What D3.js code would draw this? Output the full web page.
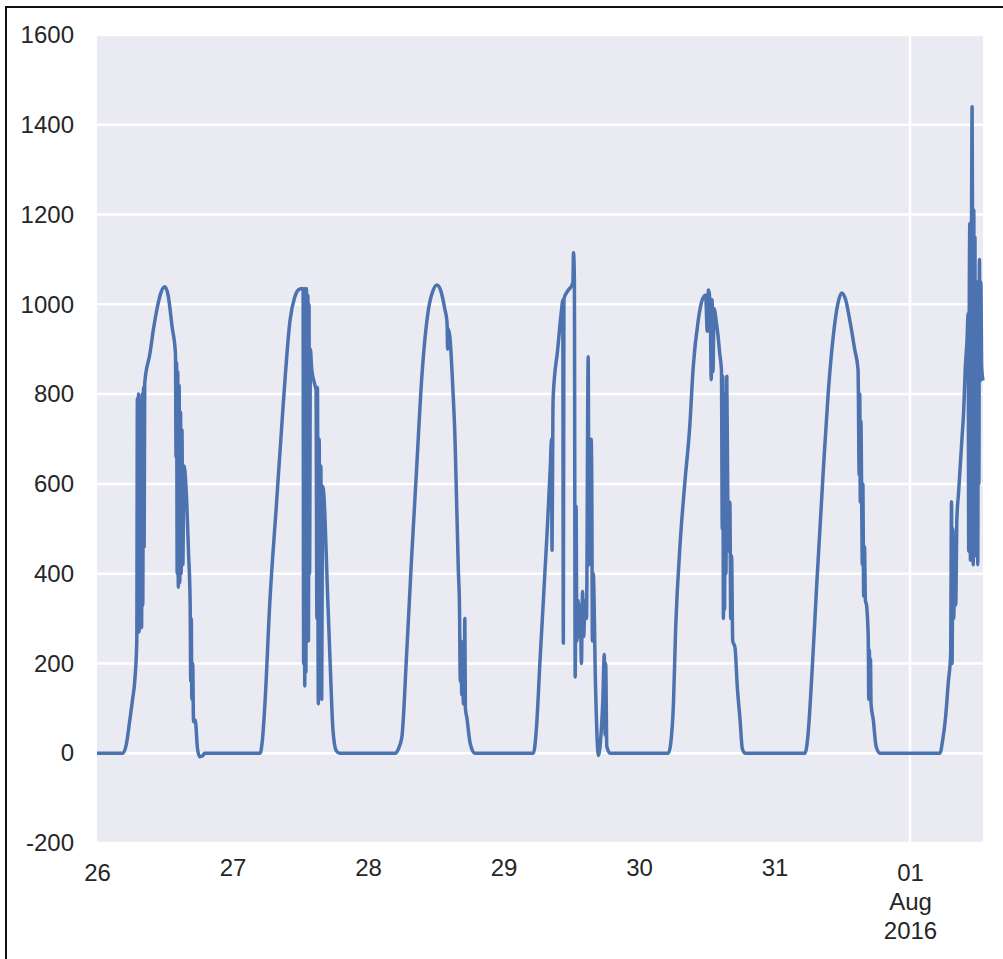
<!DOCTYPE html>
<html>
<head>
<meta charset="utf-8">
<script src="https://cdn.jsdelivr.net/npm/d3@7"></script>
<style>
  body { margin: 0; background: #fff; }
  text { font-family: "Liberation Sans", Arial, sans-serif; }
</style>
</head>
<body>
<div id="chart"></div>
<script>
// readings per day: [hour of day, value]
const jul26 = [[0,0],[4.6,0],[5.2,20],[5.8,73],[6.3,120],[6.7,163],[7.05,250],[7.15,790],[7.25,300],[7.35,800],[7.45,270],[7.6,780],[7.7,300],[7.8,760],[7.9,280],[8.0,800],[8.1,330],[8.25,815],[8.35,460],[8.45,825],[9.4,892],[10.0,945],[10.6,988],[11.3,1025],[12.0,1039],[12.6,1020],[13.3,950],[13.9,890],[14.0,660],[14.1,870],[14.2,400],[14.3,850],[14.4,370],[14.55,820],[14.65,380],[14.8,760],[14.9,400],[15.05,720],[15.2,420],[15.4,640],[15.9,557],[16.2,450],[16.5,334],[16.6,160],[16.7,300],[16.8,120],[16.95,200],[17.1,70],[17.4,74],[17.8,10],[18.2,-8],[18.8,-5],[19.0,0]];
const jul27 = [[0,0],[4.9,0],[5.3,30],[5.75,111],[6.6,334],[7.8,557],[9.0,780],[10.2,965],[11.0,1015],[11.65,1032],[12.3,1035],[12.5,1030],[12.6,200],[12.7,1035],[12.8,150],[12.9,1030],[13.0,180],[13.1,1035],[13.2,300],[13.35,1020],[13.45,250],[13.55,1000],[13.65,400],[13.8,900],[14.0,860],[14.2,840],[14.4,830],[14.6,820],[14.8,810],[14.95,300],[15.05,815],[15.2,110],[15.35,700],[15.5,150],[15.65,640],[15.8,120],[15.95,590],[16.0,594],[16.9,334],[17.3,200],[17.8,51],[18.4,5],[19.0,0]];
const jul28 = [[0,0],[4.8,0],[5.4,10],[6.0,36],[6.85,223],[7.7,430],[8.6,631],[9.5,832],[10.7,988],[11.5,1030],[12.2,1043],[12.9,1030],[13.6,990],[14.0,960],[14.1,900],[14.2,945],[14.5,928],[15.0,820],[15.4,705],[16.0,408],[16.2,330],[16.35,160],[16.5,250],[16.6,130],[16.75,200],[16.9,110],[17.05,170],[17.15,300],[17.25,100],[17.5,80],[18.1,22],[18.9,0]];
const jul29 = [[0,0],[5.3,0],[5.8,50],[6.5,214],[7.65,475],[8.3,640],[8.5,700],[8.6,452],[8.75,760],[8.8,794],[9.6,900],[10.3,990],[10.5,1010],[10.6,245],[10.7,1012],[11.5,1032],[12.0,1040],[12.3,1050],[12.4,1115],[12.55,1060],[12.7,170],[12.85,550],[13.0,250],[13.2,340],[13.4,260],[13.6,330],[13.8,200],[14.0,360],[14.2,260],[14.45,340],[14.7,300],[15.0,883],[15.15,420],[15.3,700],[15.6,698],[15.75,250],[15.9,400],[16.3,150],[16.8,-5],[17.2,30],[17.6,120],[17.85,220],[18.0,40],[18.1,200],[18.3,15],[18.9,0]];
const jul30 = [[0,0],[5.2,0],[5.6,20],[6.1,110],[6.5,280],[7.3,470],[8.1,600],[9.0,730],[9.6,860],[10.5,965],[11.2,1010],[11.8,1020],[12.1,940],[12.3,1032],[12.6,1000],[12.8,832],[12.95,1010],[13.1,850],[13.3,990],[13.7,960],[14.0,930],[14.3,890],[14.6,854],[14.75,500],[14.85,840],[14.95,300],[15.05,800],[15.15,320],[15.3,780],[15.4,400],[15.55,840],[15.7,600],[15.85,450],[16.0,560],[16.1,557],[16.25,300],[16.4,440],[16.6,250],[17.0,236],[17.4,150],[17.9,74],[18.3,10],[18.8,0]];
const jul31 = [[0,0],[5.4,0],[5.9,36],[6.6,170],[7.5,380],[8.65,631],[9.5,800],[10.4,928],[11.2,1000],[11.9,1025],[12.6,1010],[13.4,960],[14.2,900],[14.8,854],[15.0,620],[15.1,800],[15.2,560],[15.3,740],[15.45,557],[15.55,420],[15.65,600],[15.8,350],[15.95,460],[16.1,340],[16.3,330],[16.6,259],[16.7,120],[16.8,230],[16.9,130],[17.0,210],[17.1,110],[17.5,74],[18.0,15],[18.7,0]];
const aug01 = [[0,0],[5.3,0],[5.8,30],[6.3,80],[6.8,160],[7.2,220],[7.35,560],[7.45,200],[7.6,500],[7.75,300],[7.9,430],[8.1,330],[8.3,520],[8.6,580],[8.9,640],[9.2,700],[9.5,760],[9.8,860],[10.1,920],[10.3,980],[10.4,450],[10.5,1000],[10.6,1180],[10.7,430],[10.8,1050],[10.9,1200],[11.0,1440],[11.1,1100],[11.2,420],[11.3,1210],[11.4,500],[11.5,1150],[11.6,440],[11.7,1000],[11.8,480],[11.9,1050],[12.0,420],[12.1,980],[12.2,600],[12.3,1100],[12.45,830],[12.55,1050],[12.7,860],[12.93,830]];

const days = ["2016-07-26", "2016-07-27", "2016-07-28", "2016-07-29", "2016-07-30", "2016-07-31", "2016-08-01"];
const series = [jul26, jul27, jul28, jul29, jul30, jul31, aug01];

const yTicks = [-200, 0, 200, 400, 600, 800, 1000, 1200, 1400, 1600];
const xTickLabels = ["26", "27", "28", "29", "30", "31", "01\nAug\n2016"];
const majorTicks = ["2016-07-26", "2016-08-01"];

const margin = { top: 35, right: 20, bottom: 116, left: 97 },
  width = 1003 - margin.left - margin.right,
  height = 959 - margin.top - margin.bottom;

const data = [];
series.forEach((s, i) => {
  const t0 = Date.parse(days[i] + "T00:00:00Z");
  s.forEach(([h, v]) => data.push({ date: new Date(t0 + h * 3600e3), value: v }));
});

const root = d3.select("#chart")
  .append("svg")
  .attr("width", 1003)
  .attr("height", 959);

// frame round the figure
root.append("path")
  .attr("d", "M6,960V7H1004")
  .attr("fill", "none")
  .attr("stroke", "#111")
  .attr("stroke-width", 2);

const svg = root.append("g")
  .attr("transform", `translate(${margin.left},${margin.top})`);

const x = d3.scaleUtc()
  .domain(d3.extent(data, d => d.date))
  .range([0, width]);

const y = d3.scaleLinear()
  .domain([-200, 1600])
  .range([height, 0]);

svg.append("rect")
  .attr("width", width)
  .attr("height", height)
  .attr("fill", "#eaeaf2");

// grid
svg.append("g")
  .selectAll("line")
  .data(yTicks)
  .join("line")
  .attr("x1", 0)
  .attr("x2", width)
  .attr("y1", d => y(d))
  .attr("y2", d => y(d))
  .attr("stroke", "#fff")
  .attr("stroke-width", 2.5);

svg.append("g")
  .selectAll("line")
  .data(majorTicks.slice(1))
  .join("line")
  .attr("x1", d => x(new Date(d + "T00:00:00Z")))
  .attr("x2", d => x(new Date(d + "T00:00:00Z")))
  .attr("y1", 0)
  .attr("y2", height)
  .attr("stroke", "#fff")
  .attr("stroke-width", 2.5);

// the series
svg.append("path")
  .datum(data)
  .attr("fill", "none")
  .attr("stroke", "#4c72b0")
  .attr("stroke-width", 3.5)
  .attr("stroke-linejoin", "round")
  .attr("d", d3.line().curve(d3.curveMonotoneX).x(d => x(d.date)).y(d => y(d.value)));

// y axis
const yAxis = svg.append("g")
  .call(d3.axisLeft(y).tickValues(yTicks).tickSize(0).tickPadding(23).tickFormat(d => String(d)));
yAxis.select(".domain").remove();
yAxis.selectAll("text")
  .attr("font-size", 24)
  .attr("fill", "#262626")
  .attr("font-family", "'Liberation Sans', Arial, sans-serif");

// x axis
const tickDates = days.map(d => new Date(d + "T00:00:00Z"));
const xAxis = svg.append("g")
  .attr("transform", `translate(0,${height})`)
  .call(d3.axisBottom(x).tickValues(tickDates).tickSize(0).tickFormat(() => ""));
xAxis.select(".domain").remove();
xAxis.selectAll(".tick").each(function (d, i) {
  const major = majorTicks.includes(days[i]);
  const t = d3.select(this).select("text")
    .attr("font-size", 24)
    .attr("fill", "#262626")
    .attr("font-family", "'Liberation Sans', Arial, sans-serif")
    .attr("y", major ? 21 : 16)
    .attr("dy", "0.71em");
  xTickLabels[i].split("\n").forEach((line, k) => {
    t.append("tspan")
      .attr("x", 0)
      .attr("dy", k === 0 ? null : 29)
      .text(line);
  });
});
</script>
</body>
</html>
